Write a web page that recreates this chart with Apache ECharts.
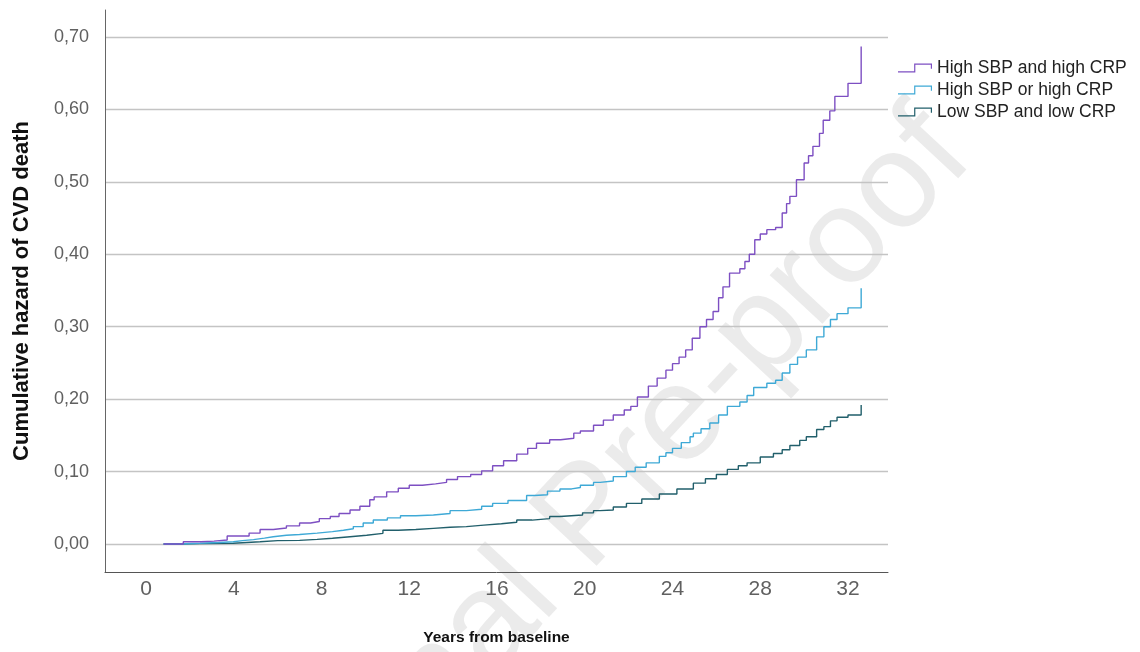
<!DOCTYPE html>
<html>
<head>
<meta charset="utf-8">
<script src="https://cdn.jsdelivr.net/npm/echarts@6/dist/echarts.min.js"></script>
<style>
html,body{margin:0;padding:0;background:#fff;}
#chart{width:1140px;height:652px;}
</style>
</head>
<body>
<div id="chart"></div>
<script>
// ---- data ----
const seriesNames = ['High SBP and high CRP', 'High SBP or high CRP', 'Low SBP and low CRP'];
const xTicks = [0, 4, 8, 12, 16, 20, 24, 28, 32];
const yTicks = [0, 0.1, 0.2, 0.3, 0.4, 0.5, 0.6, 0.7];

const highBoth = [
  [0.8,0],[1.7,0.003],[2.5,0.004],[3.1,0.0055],[3.7,0.011],[4.7,0.015],[5.2,0.020],[5.8,0.022],
  [6.4,0.025],[7.0,0.029],[7.5,0.031],[7.9,0.035],[8.4,0.038],[8.8,0.042],[9.3,0.047],[9.75,0.052],
  [10.2,0.061],[10.4,0.065],[10.97,0.072],[11.5,0.077],[12.0,0.081],[12.6,0.083],[13.2,0.085],
  [13.7,0.089],[14.2,0.093],[14.8,0.096],[15.3,0.101],[15.8,0.108],[16.3,0.115],[16.9,0.124],
  [17.4,0.132],[17.8,0.139],[18.4,0.144],[18.9,0.146],[19.5,0.153],[19.8,0.156],[20.4,0.164],
  [20.85,0.171],[21.3,0.178],[21.8,0.185],[22.1,0.190],[22.4,0.203],[22.9,0.218],[23.3,0.229],
  [23.7,0.240],[24.0,0.249],[24.3,0.258],[24.6,0.268],[24.9,0.284],[25.25,0.300],[25.55,0.310],
  [25.85,0.321],[26.1,0.340],[26.3,0.355],[26.6,0.374],[27.07,0.380],[27.3,0.390],[27.5,0.400],
  [27.75,0.420],[28.0,0.428],[28.3,0.434],[28.7,0.437],[29.0,0.457],[29.2,0.470],[29.35,0.480],
  [29.65,0.503],[30.0,0.526],[30.2,0.536],[30.4,0.549],[30.7,0.567],[30.87,0.585],[31.17,0.598],
  [31.4,0.618],[32.0,0.636],[32.6,0.687]
];
const highEither = [
  [0.8,0],[1.5,0.001],[2.46,0.002],[3.3,0.003],[3.98,0.0046],[4.4,0.006],[4.9,0.008],[5.4,0.010],
  [5.8,0.012],[6.4,0.013],[7.0,0.015],[7.8,0.017],[8.5,0.019],[9.0,0.021],[9.45,0.024],[9.9,0.029],
  [10.36,0.033],[11.0,0.036],[11.6,0.039],[12.3,0.040],[13.1,0.042],[13.86,0.046],[14.6,0.048],
  [15.3,0.052],[15.8,0.056],[16.5,0.060],[17.35,0.067],[17.7,0.068],[18.3,0.073],[18.87,0.076],
  [19.4,0.078],[19.8,0.081],[20.4,0.085],[20.7,0.087],[21.3,0.093],[21.9,0.100],[22.3,0.106],
  [22.8,0.112],[23.4,0.121],[23.7,0.126],[24.0,0.132],[24.4,0.140],[24.8,0.148],[24.95,0.153],
  [25.3,0.159],[25.7,0.167],[26.1,0.178],[26.5,0.190],[27.07,0.196],[27.4,0.205],[27.7,0.216],
  [28.3,0.222],[28.7,0.226],[29.0,0.236],[29.35,0.248],[29.7,0.258],[30.1,0.268],[30.57,0.286],
  [30.9,0.300],[31.2,0.310],[31.5,0.318],[32.0,0.326],[32.6,0.353]
];
const lowBoth = [
  [0.8,0],[1.5,0.0005],[2.46,0.001],[3.98,0.002],[4.6,0.003],[5.2,0.0046],[6.0,0.005],[7.0,0.0064],
  [7.8,0.008],[8.5,0.010],[9.3,0.012],[10.06,0.0147],[10.8,0.019],[11.5,0.020],[12.3,0.0216],
  [13.1,0.023],[13.86,0.024],[14.6,0.026],[15.4,0.028],[16.2,0.030],[16.9,0.033],[17.6,0.035],
  [18.4,0.038],[18.87,0.040],[19.9,0.043],[20.4,0.046],[20.7,0.047],[21.3,0.051],[21.9,0.056],
  [22.6,0.062],[23.4,0.069],[24.2,0.076],[24.95,0.084],[25.5,0.090],[26.0,0.096],[26.5,0.103],
  [27.0,0.108],[27.4,0.112],[28.0,0.120],[28.6,0.125],[29.0,0.130],[29.35,0.136],[29.8,0.143],
  [30.1,0.148],[30.57,0.158],[30.9,0.162],[31.2,0.170],[31.5,0.175],[32.0,0.178],[32.6,0.192]
];
const seriesData = [highBoth, highEither, lowBoth];
const seriesColors = ['#7d4fc2', '#3ea9d6', '#215f6b'];

// step-shaped legend glyph (thin filled outline)
const stepIcon = 'path://M0,9 L19,9 L19,0 L40,0 L40,6 L38.6,6 L38.6,1.4 L20.4,1.4 L20.4,10.4 L0,10.4 Z';

const chart = echarts.init(document.getElementById('chart'), null, {renderer: 'canvas'});
const option = {
  backgroundColor: '#ffffff',
  animation: false,
  grid: {left: 105, right: 252, top: 10, bottom: 80, containLabel: false},
  legend: {
    orient: 'vertical', left: 893, top: 54,
    itemWidth: 34, itemHeight: 9, itemGap: 4,
    icon: stepIcon,
    data: seriesNames,
    textStyle: {fontFamily: 'Liberation Sans, Arial, sans-serif', fontSize: 17.5, color: '#222', lineHeight: 17, padding: [0,0,0,0]},
    itemStyle: {borderWidth: 0}
  },
  xAxis: {
    type: 'value', min: -1.869, max: 33.823,
    name: 'Years from baseline', nameLocation: 'middle', nameGap: 58,
    nameTextStyle: {fontFamily: 'Liberation Sans, Arial, sans-serif', fontSize: 15.5, fontWeight: 'bold', color: '#111'},
    axisLine: {show: true, onZero: false, lineStyle: {color: '#555', width: 1}},
    axisTick: {show: false, customValues: xTicks},
    axisLabel: {customValues: xTicks, margin: 7, fontFamily: 'Liberation Sans, Arial, sans-serif', fontSize: 21, color: '#606060'},
    splitLine: {show: false}
  },
  yAxis: {
    type: 'value', min: -0.0387, max: 0.7373,
    name: 'Cumulative hazard of CVD death', nameLocation: 'middle', nameGap: 72,
    nameTextStyle: {fontFamily: 'Liberation Sans, Arial, sans-serif', fontSize: 22, fontWeight: 'bold', color: '#111'},
    axisLine: {show: true, onZero: false, lineStyle: {color: '#666', width: 1}},
    axisTick: {show: false, customValues: yTicks},
    axisLabel: {customValues: yTicks, margin: 16, fontFamily: 'Liberation Sans, Arial, sans-serif', fontSize: 18, color: '#606060',
      formatter: v => v.toFixed(2).replace('.', ',')},
    splitLine: {show: true, lineStyle: {color: '#c4c4c4', width: 1.3}}
  },
  graphic: [{
    type: 'text', z: -10,
    x: 590, y: 518, rotation: 47 * Math.PI / 180,
    style: {text: 'Journal Pre-proof', fontFamily: 'Liberation Sans, Arial, sans-serif', fontSize: 136,
      fill: 'rgba(190,190,190,0.3)', align: 'center', verticalAlign: 'middle'}
  }],
  series: seriesNames.map((n, i) => ({
    name: n, type: 'line', step: 'end', data: seriesData[i], showSymbol: false, symbol: 'none',
    color: seriesColors[i],
    lineStyle: {color: seriesColors[i], width: 1.4},
    itemStyle: {color: seriesColors[i]},
    z: 3 - i
  }))
};
chart.setOption(option);
</script>
</body>
</html>
